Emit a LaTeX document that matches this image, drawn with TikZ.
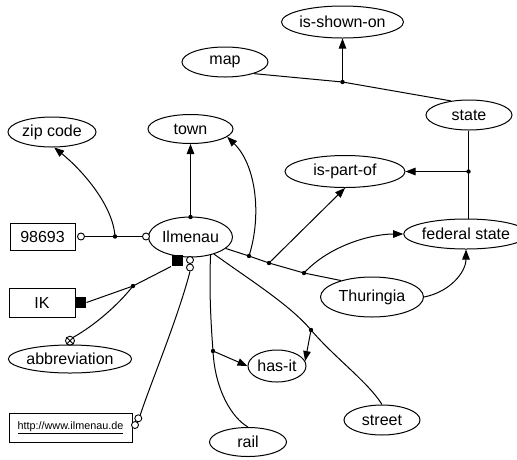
\documentclass[tikz,border=0pt]{standalone}
\usepackage{fontspec}
\setmainfont{Liberation Sans}
\usetikzlibrary{shapes.geometric,arrows.meta}
\begin{document}
\begin{tikzpicture}[x=1pt,y=-1pt,
  line width=1pt,
  every node/.style={font=\fontsize{16}{18}\selectfont, inner sep=0pt},
  concept/.style={ellipse, draw, line width=1pt, fill=white},
  entity/.style={rectangle, draw, line width=1pt, fill=white},
  arr/.style={-{Triangle[length=10pt,width=7.5pt]}},
  jdot/.style={circle, fill=black, minimum size=4.4pt, inner sep=0pt},
  ring/.style={circle, draw, fill=white, line width=0.9pt, minimum size=7pt, inner sep=0pt},
  blk/.style={rectangle, fill=black, minimum size=11pt, inner sep=0pt},
  xring/.style={circle, draw, line width=0.9pt, minimum size=9pt, inner sep=0pt},
]
\useasboundingbox (0,0) rectangle (517,459);

% concepts
\node[concept, minimum width=120pt, minimum height=32pt] (shown) at (342.5,22) {is-shown-on};
\node[concept, minimum width=86pt,  minimum height=30pt] (map)   at (225,62) {map};
\node[concept, minimum width=86pt,  minimum height=30pt] (state) at (469,115) {state};
\node[concept, minimum width=120pt, minimum height=32pt] (part)  at (345,171.5) {is-part-of};
\node[concept, minimum width=85pt,  minimum height=29pt] (town)  at (190.5,129) {town};
\node[concept, minimum width=88pt,  minimum height=30pt] (zip)   at (52,132) {zip code};
\node[concept, minimum width=84pt,  minimum height=40pt] (ilm)   at (190.5,237) {Ilmenau};
\node[concept, minimum width=102pt, minimum height=30pt] (fed)   at (466,234) {federal state};
\node[concept, minimum width=103pt, minimum height=40pt] (thu)   at (372,297) {Thuringia};
\node[concept, minimum width=120pt, minimum height=28pt] (abbr)  at (70,359) {abbreviation};
\node[concept, minimum width=58pt,  minimum height=32pt] (has)   at (277,366) {has-it};
\node[concept, minimum width=76pt,  minimum height=30pt] (street) at (382,420) {street};
\node[concept, minimum width=77pt,  minimum height=29pt] (rail)  at (248,442) {rail};

% value boxes
\node[entity, minimum width=65pt, minimum height=27pt] (r98) at (42.5,236.5) {98693};
\node[entity, minimum width=66pt, minimum height=29pt] (rik) at (42,302.5) {IK};
\node[entity, minimum width=123pt, minimum height=29pt] (rurl) at (70.5,427.5)
  {\fontsize{10.8}{12}\selectfont\underline{http://www.ilmenau.de}};

% role markers at the ends of relations
\node[ring] (c98) at (81,236.5) {};
\node[ring] (cilm) at (146,236.5) {};
\node[blk] (sqik) at (80.5,302.5) {};
\node[blk] (sqilm) at (177,260.5) {};
\node[ring] (uilm1) at (190,260) {};
\node[ring] (uilm2) at (190,267.5) {};
\node[ring] (uurl1) at (138.3,418.3) {};
\node[ring] (uurl2) at (135,425) {};
\node[xring] (xab) at (70,340.7) {};
\draw[line width=0.9pt] (xab.45) -- (xab.225) (xab.135) -- (xab.-45);

% junction points
\node[jdot] (jmap) at (342.5,82) {};
\node[jdot] (jstate) at (468.5,171.5) {};
\node[jdot] (jtown) at (190.5,217) {};
\node[jdot] (jzip) at (115,236.5) {};
\node[jdot] (jik) at (133,286) {};
\node[jdot] (ja) at (249,256) {};
\node[jdot] (jb) at (269,263) {};
\node[jdot] (jc) at (304,273) {};
\node[jdot] (jrail) at (213,351) {};
\node[jdot] (jstreet) at (311,330) {};

% map -- state, is-shown-on
\draw (map.-22) -- (jmap.center) -- (state.142);
\draw[arr] (jmap.center) -- (shown.south);

% state -- federal state, is-part-of
\draw (state.south -| jstate) -- (jstate.center) -- (jstate |- fed.north);
\draw[arr] (jstate.center) -- (part.east);

% Ilmenau -- town
\draw[arr] (jtown.center) -- (town.south);

% 98693 -- Ilmenau, zip code
\draw (c98) -- (cilm);
\draw[arr] (jzip.center) .. controls (113,205) and (82,170) .. (zip.-82);

% IK -- Ilmenau, abbreviation
\draw (sqik.east) -- (jik.center) -- (sqilm.south west);
\draw (jik.center) .. controls (118,305) and (95,325) .. (xab.45);

% URL -- Ilmenau
\draw (uilm2.south) .. controls (178,318) and (150,385) .. (uurl1.60);

% Ilmenau -- Thuringia with its three relations
\draw (ilm.-18) -- (ja.center) -- (jb.center) -- (jc.center) -- (thu.152);
\draw[arr] (ja.center) .. controls (262,215) and (256,165) .. (town.-12);
\draw[arr] (jb.center) -- (part.south);
\draw[arr] (jc.center) .. controls (330,245) and (372,234) .. (fed.west);
\draw[arr] (thu.east) .. controls (450,292) and (466,272) .. (fed.south);

% Ilmenau -- rail, street, has-it
\draw (ilm.-42) .. controls (209,290) and (211,325) .. (jrail.center)
      .. controls (215,390) and (232,418) .. (rail.north);
\draw (ilm.-36) .. controls (250,280) and (290,305) .. (jstreet.center)
      .. controls (335,358) and (368,382) .. (street.north);
\draw[arr] (jrail.center) -- (has.west);
\draw[arr] (jstreet.center) -- (has.10);
\end{tikzpicture}
\end{document}
